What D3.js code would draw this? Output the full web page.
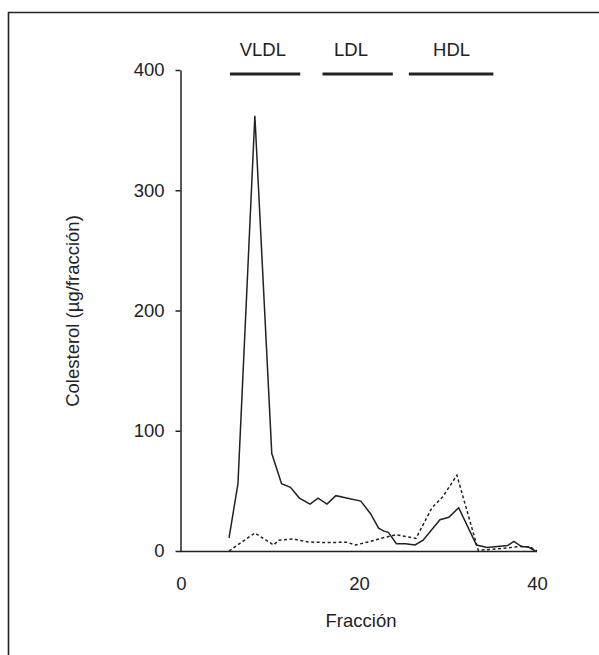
<!doctype html>
<html>
<head>
<meta charset="utf8">
<title>Colesterol por fracción</title>
<script src="https://cdn.jsdelivr.net/npm/d3@7"></script>
<style>
  body { margin: 0; background: #fff; }
  svg text { font-family: "Liberation Sans", Arial, sans-serif; fill: #222; }
</style>
</head>
<body>
<div id="chart"></div>
<script>
"use strict";
// values
const xTicks = [0, 20, 40];
const yTicks = [0, 100, 200, 300, 400];

const solidX = [5.4, 6.4, 8.3, 10.2, 11.3, 12.3, 13.3, 14.5, 15.4, 16.4, 17.4, 20.2, 21.3, 22.2, 22.8, 23.3, 24.2, 25.2, 26.3, 27.2, 29.1, 30.1, 31.2, 33.2, 34.4, 36.7, 37.4, 38.3, 39.0, 39.8];
const solidY = [11, 56, 362, 81, 56, 53, 44, 39, 44, 39, 46, 41.5, 31, 19, 16.5, 15.5, 6, 6, 5, 9, 26, 28, 36, 5, 3, 4.5, 8, 3.5, 3.5, 0];

const dashX = [5.4, 8.3, 10.4, 11.0, 12.6, 14.3, 16.4, 18.6, 19.6, 21.3, 22.7, 24.2, 26.4, 28.2, 29.4, 31.0, 33.4, 36.6, 38.3, 39.3, 40.0];
const dashY = [0, 15, 5, 9, 10, 7.5, 7, 7.3, 5, 8, 11, 13.5, 10.5, 36, 45, 63, 0.5, 2.5, 4, 3, 0];

const bands = ["VLDL", "LDL", "HDL"];
const bandStart = [5.5, 15.9, 25.6];
const bandEnd = [13.4, 23.8, 35.1];
const bandLabelAt = [9.2, 19.1, 30.4];

const width = 599, height = 655;
const ink = "#222";
const fontSize = 18.5;
const fontFam = "'Liberation Sans', Arial, sans-serif";

const svg = d3.select("#chart").append("svg")
    .attr("width", width)
    .attr("height", height);

// frame (top and left edges)
svg.append("path")
    .attr("d", "M8.5," + height + "V12.5H" + width)
    .attr("fill", "none")
    .attr("stroke", ink)
    .attr("stroke-width", 1.6);

const x = d3.scaleLinear().domain([0, 40]).range([181, 537]);
const y = d3.scaleLinear().domain([0, 400]).range([551, 70]);

// y axis
const yAxis = svg.append("g")
    .attr("transform", "translate(180.5,0)")
    .call(d3.axisLeft(y).tickValues(yTicks).tickSize(5).tickPadding(11).tickSizeOuter(0));
yAxis.select(".domain").attr("stroke", ink).attr("stroke-width", 1.5);
yAxis.selectAll(".tick line").attr("stroke", ink).attr("stroke-width", 1.5);
yAxis.selectAll("text").attr("font-size", fontSize).attr("fill", ink)
    .style("font-family", fontFam);

// x axis (line only, no tick marks)
const xAxis = svg.append("g")
    .attr("transform", "translate(0,551.5)")
    .call(d3.axisBottom(x).tickValues(xTicks).tickSize(0).tickPadding(25).tickSizeOuter(0));
xAxis.select(".domain").attr("stroke", ink).attr("stroke-width", 1.5)
    .attr("d", "M180,0H537");
xAxis.selectAll("text").attr("font-size", fontSize).attr("fill", ink)
    .style("font-family", fontFam);

// axis titles
svg.append("text")
    .attr("x", 361).attr("y", 627)
    .attr("text-anchor", "middle")
    .attr("font-size", fontSize)
    .text("Fracción");

svg.append("text")
    .attr("transform", "translate(79,311) rotate(-90)")
    .attr("text-anchor", "middle")
    .attr("font-size", fontSize)
    .text("Colesterol (µg/fracción)");

// lipoprotein bands
const bandG = svg.append("g");
bands.forEach((b, i) => {
    bandG.append("line")
        .attr("x1", x(bandStart[i])).attr("x2", x(bandEnd[i]))
        .attr("y1", y(400) + 4).attr("y2", y(400) + 4)
        .attr("stroke", ink).attr("stroke-width", 3);
    bandG.append("text")
        .attr("x", x(bandLabelAt[i]))
        .attr("y", 56)
        .attr("text-anchor", "middle")
        .attr("font-size", fontSize)
        .text(b);
});

const line = d3.line().x(d => x(d[0])).y(d => y(d[1]));

svg.append("path")
    .datum(dashX.map((v, i) => [v, dashY[i]]))
    .attr("d", line)
    .attr("fill", "none")
    .attr("stroke", ink)
    .attr("stroke-width", 1.5)
    .attr("stroke-dasharray", "3,2.5");

svg.append("path")
    .datum(solidX.map((v, i) => [v, solidY[i]]))
    .attr("d", line)
    .attr("fill", "none")
    .attr("stroke", ink)
    .attr("stroke-width", 1.5)
    .attr("stroke-linejoin", "miter");
</script>
</body>
</html>
